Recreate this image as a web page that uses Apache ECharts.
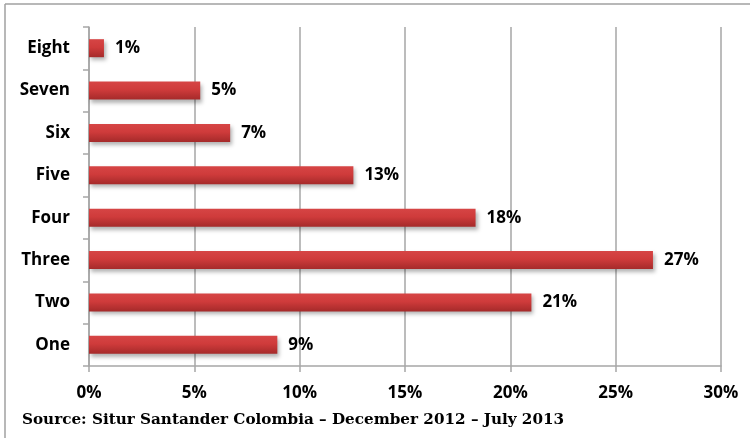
<!DOCTYPE html>
<html><head><meta charset="utf-8">
<script src="https://cdn.jsdelivr.net/npm/echarts@6/dist/echarts.min.js"></script>
<style>html,body{margin:0;padding:0;background:#fff}#c{width:750px;height:438px}</style>
</head><body><div id="c"></div>
<script>
const categories = ['One','Two','Three','Four','Five','Six','Seven','Eight'];
const values = [8.94, 21.0, 26.77, 18.35, 12.55, 6.7, 5.28, 0.71];
const xTicks = [0, 5, 10, 15, 20, 25, 30];
const sourceText = 'Source: Situr Santander Colombia \u2013 December 2012 \u2013 July 2013';

const chart = echarts.init(document.getElementById('c'), null, {renderer:'canvas'});
const labelFont = '"Open Sans", Lato, sans-serif';
chart.setOption({
  animation:false,
  backgroundColor:'#fff',
  grid:{left:89, right:29, top:27, bottom:72, containLabel:false},
  xAxis:{
    type:'value', min:xTicks[0], max:xTicks[xTicks.length-1], interval:5,
    axisLine:{show:true, lineStyle:{color:'#a6a6a6', width:1.5}},
    axisTick:{show:true, length:6, lineStyle:{color:'#a6a6a6', width:1.5}},
    splitLine:{show:true, lineStyle:{color:'#a6a6a6', width:1.5}},
    axisLabel:{formatter:v=>v+'%', color:'#000', fontSize:17, fontWeight:'bold', fontFamily:labelFont, margin:19}
  },
  yAxis:{
    type:'category', data:categories,
    axisLine:{show:true, lineStyle:{color:'#a6a6a6', width:1.5}},
    axisTick:{show:true, length:6, lineStyle:{color:'#a6a6a6', width:1.5}},
    axisLabel:{color:'#000', fontSize:17, fontWeight:'bold', fontFamily:labelFont, margin:19}
  },
  series:[{
    type:'bar', data:values, barWidth:18,
    itemStyle:{
      color:new echarts.graphic.LinearGradient(0,0,0,1,[
        {offset:0,color:'#d64545'},{offset:0.45,color:'#cf3b3b'},{offset:1,color:'#a52a2a'}
      ]),
      shadowColor:'rgba(0,0,0,0.3)', shadowBlur:4, shadowOffsetX:2, shadowOffsetY:3
    },
    label:{show:true, position:'right', distance:11, formatter:p=>Math.round(p.value)+'%',
      color:'#000', fontSize:17, fontWeight:'bold', fontFamily:labelFont}
  }],
  graphic:[
    {type:'line', shape:{x1:5,y1:4,x2:750,y2:4}, style:{stroke:'#a0a0a0', lineWidth:1.5}},
    {type:'line', shape:{x1:5,y1:4,x2:5,y2:438}, style:{stroke:'#a0a0a0', lineWidth:1.5}},
    {type:'text', left:22, top:413, style:{text:sourceText, fill:'#000',
      font:'bold 15.2px "DejaVu Serif", "Liberation Serif", serif'}}
  ]
});
</script></body></html>
